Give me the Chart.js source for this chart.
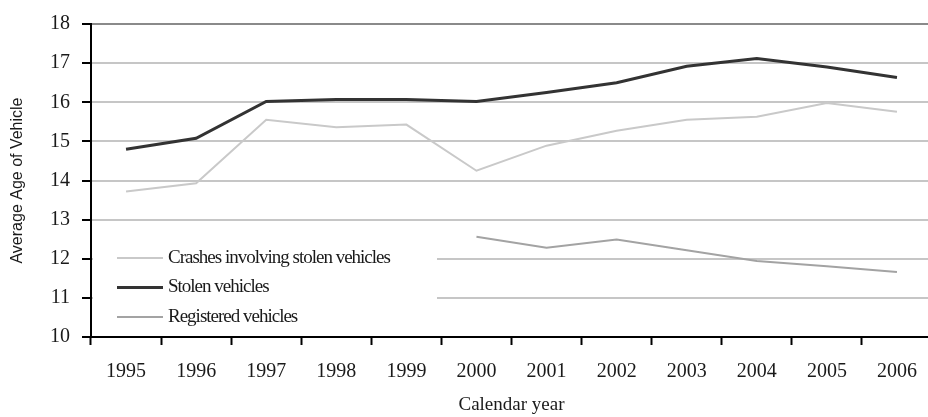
<!DOCTYPE html>
<html>
<head>
<meta charset="utf-8">
<script src="https://cdn.jsdelivr.net/npm/chart.js@4.4.0/dist/chart.umd.min.js"></script>
<style>
    html, body { margin: 0; padding: 0; background: #fff; overflow: hidden; }
    #wrap { width: 932px; height: 417px; }
</style>
</head>
<body>
<div id="wrap"><canvas id="ageChart"></canvas></div>
<script>
// Datos
const years = ['1995', '1996', '1997', '1998', '1999', '2000', '2001', '2002', '2003', '2004', '2005', '2006'];
const crashesStolen = [13.72, 13.93, 15.55, 15.36, 15.43, 14.25, 14.89, 15.27, 15.55, 15.63, 15.98, 15.76];
const stolenVehicles = [14.8, 15.08, 16.02, 16.07, 16.07, 16.02, 16.25, 16.5, 16.92, 17.12, 16.9, 16.63];
const registeredVehicles = [null, null, null, null, null, 12.56, 12.28, 12.49, 12.22, 11.94, 11.81, 11.66];
const yTicks = [10, 11, 12, 13, 14, 15, 16, 17, 18];

const serif = '"Liberation Serif", "Times New Roman", serif';

// Leyenda dibujada dentro del área del gráfico, con fondo blanco
const insideLegend = {
    id: 'insideLegend',
    beforeDatasetsDraw(chart) {
        const ctx = chart.ctx;
        const area = chart.chartArea;
        ctx.save();
        ctx.fillStyle = '#fff';
        ctx.fillRect(area.left + 2, area.bottom - 96, 344, 94);
        ctx.font = '19px ' + serif;
        ctx.letterSpacing = '-1px';
        ctx.textBaseline = 'middle';
        ctx.fillStyle = '#1a1a1a';
        chart.data.datasets.forEach((ds, i) => {
            const y = area.bottom - 79 + i * 29.5;
            ctx.strokeStyle = ds.borderColor;
            ctx.lineWidth = ds.borderWidth;
            ctx.beginPath();
            ctx.moveTo(area.left + 26, y);
            ctx.lineTo(area.left + 72, y);
            ctx.stroke();
            ctx.fillText(ds.label, area.left + 77, y);
        });
        ctx.restore();
    }
};

new Chart(document.getElementById('ageChart'), {
    type: 'line',
    data: {
        labels: years,
        datasets: [
            { label: 'Crashes involving stolen vehicles', data: crashesStolen, borderColor: '#c9c9c9', borderWidth: 2 },
            { label: 'Stolen vehicles', data: stolenVehicles, borderColor: '#333333', borderWidth: 3 },
            { label: 'Registered vehicles', data: registeredVehicles, borderColor: '#a3a3a3', borderWidth: 2 }
        ]
    },
    options: {
        responsive: true,
        maintainAspectRatio: false,
        animation: false,
        layout: { padding: { top: 23, right: 0, left: 0, bottom: 0 } },
        elements: { point: { radius: 0 }, line: { tension: 0 } },
        scales: {
            x: {
                offset: true,
                grid: { offset: true, drawOnChartArea: false, drawTicks: true, tickLength: 8, tickColor: '#000', tickWidth: 2 },
                border: { color: '#000', width: 2 },
                ticks: { color: '#1a1a1a', font: { family: serif, size: 20 }, padding: 15, maxRotation: 0, autoSkip: false },
                title: { display: true, text: 'Calendar year', color: '#1a1a1a', font: { family: serif, size: 19 }, padding: { top: 0, bottom: 1 } },
                afterFit(scale) { scale.height = 80; }
            },
            y: {
                min: 10,
                max: 18,
                afterBuildTicks(scale) { scale.ticks = yTicks.map(v => ({ value: v })); },
                grid: {
                    color: (c) => c.tick && c.tick.value === 18 ? '#8a8a8a' : '#c6c6c6',
                    lineWidth: 2,
                    tickLength: 9,
                    tickColor: '#000',
                    tickWidth: 2
                },
                border: { color: '#000', width: 2 },
                ticks: { color: '#1a1a1a', font: { family: serif, size: 20 }, padding: 12 },
                title: { display: true, text: 'Average Age of Vehicle', color: '#1a1a1a', font: { family: '"Liberation Sans", Arial, sans-serif', size: 16 }, padding: { top: 8, bottom: 0 } },
                afterFit(scale) { scale.width = 91; }
            }
        },
        plugins: {
            legend: { display: false },
            tooltip: { enabled: false }
        }
    },
    plugins: [insideLegend]
});
</script>
</body>
</html>
